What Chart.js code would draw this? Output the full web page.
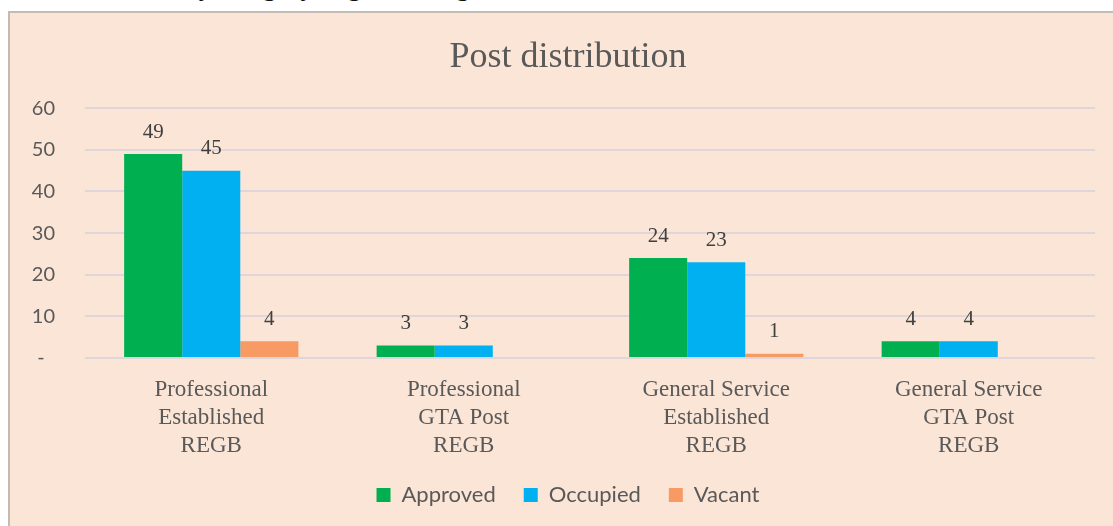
<!DOCTYPE html>
<html>
<head>
<meta charset="utf-8">
<script src="https://cdn.jsdelivr.net/npm/chart.js@4.4.1/dist/chart.umd.min.js"></script>
<style>
  html, body { margin: 0; padding: 0; background: #fff; overflow: hidden; width: 1113px; height: 526px; }
  #heading {
    position: absolute; left: 120px; top: -27px; height: 38px; overflow: hidden;
    font: bold 26px "Liberation Serif", serif; color: #111; white-space: nowrap;
  }
  #box {
    position: absolute; left: 8px; top: 11px; width: 1116px; height: 540px;
    background: #fbe5d6; border-left: 2px solid #c4bbb3; border-top: 2px solid #c4bbb3;
  }
  #box canvas { display: block; }
</style>
</head>
<body>
<div id="heading">Posts by category, regular budget</div>
<div id="box"><canvas id="postChart" width="1116" height="540"></canvas></div>
<script>
// Chart data
const categories = [
  ["Professional", "Established", "REGB"],
  ["Professional", "GTA Post", "REGB"],
  ["General Service", "Established", "REGB"],
  ["General Service", "GTA Post", "REGB"],
];
const approved = [49, 3, 24, 4];
const occupied = [45, 3, 23, 4];
const vacant = [4, 0, 1, 0];
const seriesNames = ["Approved", "Occupied", "Vacant"];
const seriesColors = ["#00b050", "#00b0f0", "#f79a63"];
const yMax = 60;
const yStep = 10;
const zeroLabel = "-  ";

const serif = "'Liberation Serif', 'Times New Roman', serif";
const sans = "Lato, 'Open Sans', sans-serif";

// Value labels above the bars (zero values are not labelled)
const valueLabels = {
  id: "valueLabels",
  afterDatasetsDraw(chart) {
    const ctx = chart.ctx;
    ctx.save();
    ctx.font = "21px " + serif;
    ctx.fillStyle = "#404040";
    ctx.textAlign = "center";
    ctx.textBaseline = "middle";
    chart.data.datasets.forEach((ds, i) => {
      chart.getDatasetMeta(i).data.forEach((bar, j) => {
        if (!ds.data[j]) return;
        ctx.fillText(String(ds.data[j]), bar.x, bar.y - 22);
      });
    });
    ctx.restore();
  },
};

const ctx = document.getElementById("postChart").getContext("2d");
new Chart(ctx, {
  type: "bar",
  data: {
    labels: categories,
    datasets: [approved, occupied, vacant].map((values, i) => ({
      label: seriesNames[i],
      data: values,
      backgroundColor: seriesColors[i],
      borderWidth: 0,
      categoryPercentage: 0.69,
      barPercentage: 1,
    })),
  },
  options: {
    responsive: false,
    animation: false,
    layout: { padding: { left: 20, right: 20, top: 0, bottom: 37 } },
    plugins: {
      title: {
        display: true,
        text: "Post distribution",
        color: "#595959",
        font: { family: serif, size: 36, weight: "normal", lineHeight: 1.2 },
        padding: { top: 23, bottom: 29 },
      },
      legend: {
        position: "bottom",
        labels: {
          boxWidth: 14,
          boxHeight: 14,
          padding: 28,
          color: "#595959",
          font: { family: sans, size: 22 },
        },
      },
      tooltip: { enabled: false },
    },
    scales: {
      x: {
        grid: { display: false, drawTicks: false },
        border: { display: false },
        ticks: {
          color: "#595959",
          padding: 18,
          font: { family: serif, size: 23, lineHeight: 1.22 },
          maxRotation: 0,
          autoSkip: false,
        },
        afterFit(scale) {
          scale.height = 98;
        },
      },
      y: {
        min: 0,
        max: yMax,
        grid: { color: "#e0d6da", lineWidth: 2, drawTicks: false },
        border: { display: false },
        ticks: {
          stepSize: yStep,
          padding: 30,
          color: "#595959",
          font: { family: sans, size: 20 },
          callback: (value) => (value === 0 ? zeroLabel : value),
        },
        afterFit(scale) {
          scale.width = 55;
        },
      },
      // empty right-hand gutter, keeps the title and legend centred like the original
      gutter: {
        position: "right",
        grid: { display: false, drawTicks: false },
        border: { display: false },
        ticks: { display: false },
        afterFit(scale) {
          scale.width = 11;
        },
      },
    },
  },
  plugins: [valueLabels],
});
</script>
</body>
</html>
